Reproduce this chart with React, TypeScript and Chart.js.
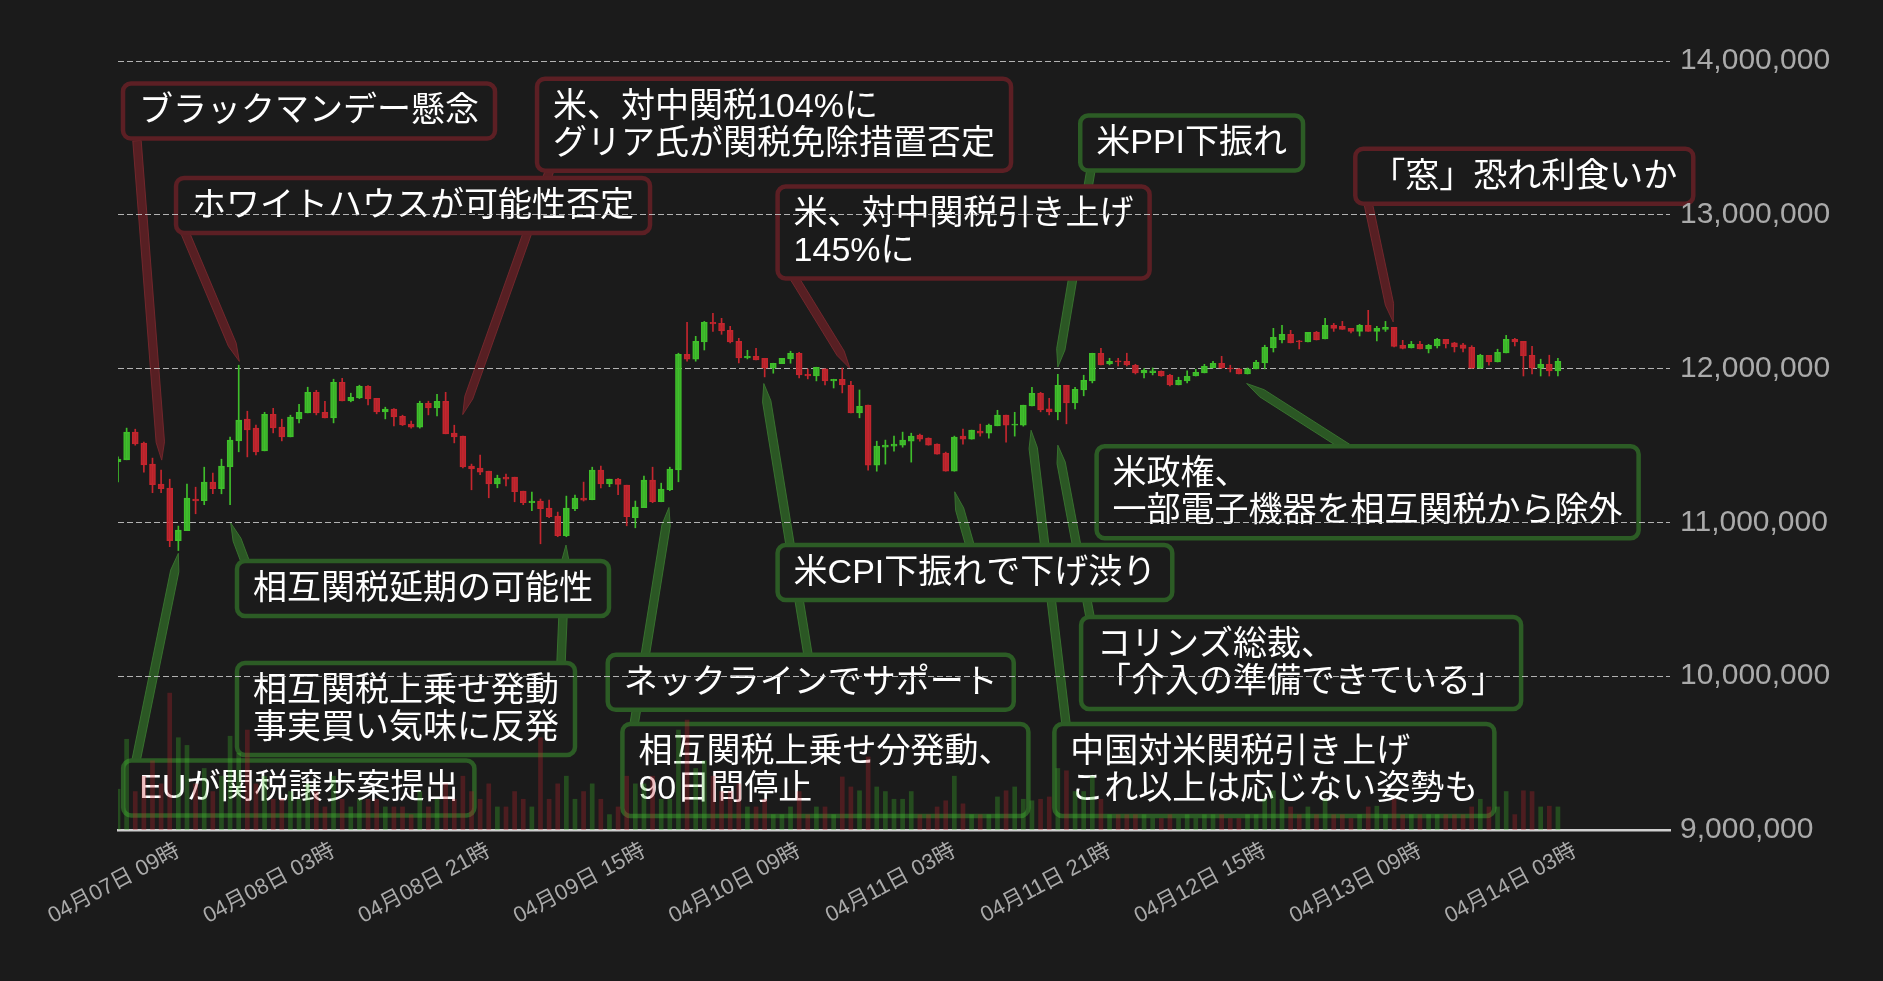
import React, { useEffect, useRef } from 'react';
import { Chart, registerables } from 'chart.js';

Chart.register(...registerables);

const BG = '#1b1b1b';
const FONT = "'Liberation Sans', 'Noto Sans CJK JP', sans-serif";
const UP = '#3fbf2b';
const DOWN = '#c4262e';

// hourly candles starting 2025-04-07 02:00 (JST); the axis runs 181 hours
const HOURS = 181;
const LABELS: string[] = [];
for (let h = 0; h < HOURS; h++) {
  const d = new Date(Date.UTC(2025, 3, 7, 2 + h));
  const p = (n: number) => String(n).padStart(2, '0');
  LABELS.push(`${p(d.getUTCMonth() + 1)}月${p(d.getUTCDate())}日 ${p(d.getUTCHours())}時`);
}

const OPEN = [
  11394000, 11407000, 11587000, 11515000, 11379000, 11249000, 11223000, 10881000, 10946000, 11152000,
  11141000, 11262000, 11219000, 11361000, 11530000, 11671000, 11613000, 11465000, 11703000, 11619000,
  11556000, 11673000, 11712000, 11846000, 11716000, 11680000, 11911000, 11790000, 11810000, 11885000,
  11807000, 11719000, 11736000, 11690000, 11639000, 11619000, 11775000, 11745000, 11788000, 11580000,
  11561000, 11366000, 11353000, 11333000, 11251000, 11294000, 11294000, 11203000, 11128000, 11139000,
  11093000, 11041000, 10913000, 11089000, 11158000, 11147000, 11340000, 11251000, 11281000, 11242000,
  11030000, 11095000, 11275000, 11134000, 11212000, 11342000, 12093000, 12061000, 12173000, 12301000,
  12294000, 12249000, 12177000, 12069000, 12080000, 12067000, 12002000, 12032000, 12063000, 12100000,
  11963000, 11952000, 11998000, 11920000, 11931000, 11892000, 11712000, 11762000, 11372000, 11489000,
  11496000, 11502000, 11528000, 11567000, 11548000, 11509000, 11450000, 11333000, 11561000, 11541000,
  11593000, 11580000, 11628000, 11697000, 11632000, 11632000, 11758000, 11840000, 11738000, 11719000,
  11892000, 11777000, 11861000, 11920000, 12100000, 12030000, 12050000, 12048000, 12022000, 11972000,
  11974000, 11983000, 11957000, 11894000, 11920000, 11952000, 11972000, 12004000, 12035000, 12004000,
  11998000, 11965000, 11998000, 12037000, 12134000, 12186000, 12223000, 12180000, 12173000, 12236000,
  12193000, 12281000, 12275000, 12262000, 12242000, 12281000, 12242000, 12255000, 12268000, 12152000,
  12134000, 12158000, 12128000, 12147000, 12190000, 12167000, 12154000, 12139000, 12002000, 12087000,
  12043000, 12102000, 12190000, 12177000, 12087000, 12002000, 12028000, 11985000,
];
const HIGH = [
  11426000, 11613000, 11606000, 11522000, 11418000, 11340000, 11281000, 10976000, 11249000, 11229000,
  11359000, 11320000, 11411000, 11554000, 12022000, 11723000, 11632000, 11716000, 11742000, 11671000,
  11697000, 11768000, 11879000, 11859000, 11788000, 11931000, 11937000, 11840000, 11892000, 11890000,
  11807000, 11749000, 11740000, 11697000, 11658000, 11788000, 11788000, 11833000, 11846000, 11632000,
  11561000, 11379000, 11437000, 11333000, 11307000, 11314000, 11294000, 11203000, 11197000, 11152000,
  11145000, 11067000, 11171000, 11177000, 11262000, 11359000, 11366000, 11281000, 11286000, 11242000,
  11139000, 11301000, 11359000, 11255000, 11359000, 12100000, 12301000, 12210000, 12307000, 12359000,
  12327000, 12275000, 12197000, 12119000, 12132000, 12067000, 12035000, 12067000, 12113000, 12106000,
  11998000, 12009000, 11998000, 11931000, 12004000, 11918000, 11861000, 11762000, 11528000, 11535000,
  11561000, 11587000, 11580000, 11574000, 11550000, 11511000, 11457000, 11561000, 11606000, 11600000,
  11639000, 11639000, 11729000, 11697000, 11716000, 11762000, 11879000, 11846000, 11807000, 11963000,
  11892000, 11879000, 11957000, 12100000, 12132000, 12067000, 12067000, 12100000, 12028000, 12000000,
  12004000, 11985000, 11963000, 11944000, 11985000, 11996000, 12028000, 12048000, 12080000, 12022000,
  12000000, 12004000, 12054000, 12152000, 12262000, 12281000, 12249000, 12184000, 12236000, 12242000,
  12327000, 12294000, 12307000, 12262000, 12288000, 12379000, 12275000, 12307000, 12268000, 12184000,
  12177000, 12177000, 12158000, 12197000, 12190000, 12171000, 12165000, 12149000, 12093000, 12087000,
  12126000, 12216000, 12197000, 12177000, 12145000, 12061000, 12087000, 12067000,
];
const LOW = [
  11264000, 11407000, 11502000, 11327000, 11193000, 11193000, 10842000, 10817000, 10946000, 11056000,
  11115000, 11186000, 11186000, 11115000, 11459000, 11426000, 11439000, 11465000, 11582000, 11530000,
  11556000, 11647000, 11712000, 11699000, 11680000, 11647000, 11790000, 11784000, 11805000, 11764000,
  11706000, 11673000, 11628000, 11630000, 11613000, 11613000, 11699000, 11693000, 11576000, 11517000,
  11355000, 11212000, 11310000, 11160000, 11225000, 11238000, 11134000, 11115000, 11076000, 10861000,
  11030000, 10907000, 10907000, 11076000, 11139000, 11147000, 11225000, 11232000, 11180000, 10978000,
  10965000, 11095000, 11128000, 11134000, 11206000, 11264000, 12048000, 12048000, 12121000, 12242000,
  12223000, 12167000, 12037000, 12063000, 12056000, 11946000, 11970000, 12032000, 12035000, 11939000,
  11933000, 11920000, 11894000, 11874000, 11842000, 11712000, 11680000, 11340000, 11333000, 11379000,
  11463000, 11489000, 11392000, 11528000, 11502000, 11444000, 11333000, 11333000, 11509000, 11541000,
  11561000, 11548000, 11628000, 11522000, 11561000, 11626000, 11758000, 11719000, 11699000, 11667000,
  11641000, 11738000, 11823000, 11907000, 12024000, 12024000, 12017000, 12017000, 11965000, 11939000,
  11959000, 11950000, 11887000, 11894000, 11907000, 11952000, 11972000, 12004000, 12002000, 11978000,
  11965000, 11965000, 11998000, 11998000, 12108000, 12167000, 12167000, 12128000, 12173000, 12186000,
  12193000, 12242000, 12255000, 12232000, 12212000, 12242000, 12180000, 12242000, 12141000, 12128000,
  12134000, 12128000, 12102000, 12134000, 12134000, 12108000, 12108000, 12002000, 12002000, 12022000,
  12043000, 12102000, 12147000, 11952000, 11965000, 11952000, 11952000, 11952000,
];
const CLOSE = [
  11411000, 11587000, 11511000, 11374000, 11245000, 11219000, 10881000, 10950000, 11158000, 11139000,
  11262000, 11219000, 11366000, 11535000, 11665000, 11602000, 11459000, 11703000, 11615000, 11556000,
  11684000, 11716000, 11846000, 11712000, 11680000, 11911000, 11790000, 11814000, 11885000, 11803000,
  11719000, 11736000, 11686000, 11634000, 11619000, 11775000, 11745000, 11788000, 11576000, 11556000,
  11361000, 11348000, 11327000, 11251000, 11288000, 11281000, 11199000, 11128000, 11139000, 11089000,
  11037000, 10913000, 11093000, 11158000, 11145000, 11340000, 11251000, 11281000, 11247000, 11037000,
  11100000, 11275000, 11134000, 11216000, 11346000, 12093000, 12061000, 12177000, 12301000, 12290000,
  12245000, 12173000, 12069000, 12080000, 12056000, 12002000, 12035000, 12067000, 12100000, 11959000,
  11952000, 12009000, 11920000, 11931000, 11894000, 11712000, 11755000, 11372000, 11496000, 11502000,
  11509000, 11535000, 11561000, 11541000, 11502000, 11444000, 11333000, 11554000, 11541000, 11600000,
  11580000, 11632000, 11697000, 11632000, 11639000, 11762000, 11840000, 11732000, 11719000, 11892000,
  11777000, 11866000, 11924000, 12100000, 12024000, 12048000, 12043000, 12024000, 11972000, 11989000,
  11985000, 11952000, 11894000, 11924000, 11950000, 11976000, 12015000, 12035000, 12004000, 11998000,
  11965000, 11998000, 12041000, 12139000, 12203000, 12223000, 12167000, 12175000, 12236000, 12186000,
  12281000, 12262000, 12255000, 12242000, 12281000, 12242000, 12262000, 12268000, 12145000, 12132000,
  12158000, 12128000, 12152000, 12190000, 12160000, 12141000, 12132000, 12002000, 12087000, 12043000,
  12106000, 12190000, 12173000, 12082000, 12002000, 12028000, 11985000, 12048000,
];
const VOLUME = [
  53, 118, 50, 70, 90, 60, 178, 120, 110, 60, 80, 50, 70, 122, 100,
  130, 60, 70, 40, 40, 50, 40, 60, 50, 30, 70, 40, 30, 40, 40,
  40, 30, 30, 30, 20, 50, 30, 40, 60, 40, 70, 50, 40, 60, 30,
  30, 50, 40, 30, 120, 40, 60, 70, 40, 50, 60, 40, 20, 30, 70,
  60, 60, 70, 40, 40, 130, 143, 80, 90, 70, 50, 50, 60, 30, 30,
  40, 20, 20, 30, 50, 20, 30, 30, 20, 69, 56, 51, 95, 56, 50,
  40, 40, 50, 20, 20, 30, 38, 70, 34, 20, 20, 20, 43, 51, 56,
  40, 38, 40, 43, 80, 77, 50, 50, 70, 40, 20, 20, 20, 20, 20,
  15, 15, 20, 15, 20, 15, 20, 20, 20, 15, 15, 20, 20, 40, 51,
  40, 30, 20, 30, 20, 40, 20, 20, 15, 20, 30, 31, 20, 40, 20,
  20, 20, 20, 20, 20, 20, 20, 30, 40, 30, 30, 50, 20, 51, 50, 30, 31, 30,
];
const Y_TICKS = [9000000, 10000000, 11000000, 12000000, 13000000, 14000000];
const VOLUME_AXIS_MAX = 1000;

// news call-outs: box top-left, pointer start and pointer tip, in (hour index, price)
type Note = { tone: 'bear' | 'bull'; lines: string[]; box: [number, number]; from: [number, number]; to: [number, number] };
const NOTES: Note[] = [
  { tone: 'bear', lines: ['ブラックマンデー懸念'], box: [0.58, 13853000], from: [2.2, 13482000], to: [5.07, 11405000] },
  { tone: 'bear', lines: ['ホワイトハウスが可能性否定'], box: [6.73, 13240000], from: [7.77, 12885000], to: [14.07, 12047000] },
  { tone: 'bear', lines: ['米、対中関税104%に', 'グリア氏が関税免除措置否定'], box: [48.6, 13885000], from: [50.1, 13294000], to: [39.98, 11701000] },
  { tone: 'bear', lines: ['米、対中関税引き上げ', '145%に'], box: [76.5, 13184000], from: [78.4, 12593000], to: [84.9, 12000000] },
  { tone: 'bear', lines: ['「窓」恐れ利食いか'], box: [143.5, 13430000], from: [144.9, 13099000], to: [147.9, 12303000] },
  { tone: 'bull', lines: ['米PPI下振れ'], box: [111.6, 13645000], from: [112.85, 13294000], to: [109, 12010000] },
  { tone: 'bull', lines: ['相互関税延期の可能性'], box: [13.8, 10749000], from: [14.73, 10749000], to: [13.07, 10997000] },
  { tone: 'bull', lines: ['相互関税上乗せ発動', '事実買い気味に反発'], box: [13.8, 10086000], from: [51.38, 10086000], to: [51.96, 10853000] },
  { tone: 'bull', lines: ['EUが関税譲歩案提出'], box: [0.6, 9452000], from: [2.09, 9450000], to: [7.0, 10799000] },
  { tone: 'bull', lines: ['ネックラインでサポート'], box: [56.8, 10139000], from: [80.03, 10138000], to: [74.9, 11903000] },
  { tone: 'bull', lines: ['相互関税上乗せ分発動、', '90日間停止'], box: [58.5, 9690000], from: [59.85, 9684000], to: [63.9, 11097000] },
  { tone: 'bull', lines: ['米CPI下振れで下げ渋り'], box: [76.5, 10853000], from: [98.8, 10853000], to: [97.04, 11199000] },
  { tone: 'bull', lines: ['米政権、', '一部電子機器を相互関税から除外'], box: [113.5, 11495000], from: [142.66, 11482000], to: [130.9, 11903000] },
  { tone: 'bull', lines: ['コリンズ総裁、', '「介入の準備できている」'], box: [111.7, 10385000], from: [112.74, 10385000], to: [109, 11502000] },
  { tone: 'bull', lines: ['中国対米関税引き上げ', 'これ以上は応じない姿勢も'], box: [108.6, 9690000], from: [109.95, 9690000], to: [105.9, 11599000] },
];

const TONE = {
  bear: { stroke: '#5c1f24', fill: 'rgba(92,31,36,0.92)', edge: 'rgba(120,40,46,0.9)' },
  bull: { stroke: '#2c5c25', fill: 'rgba(44,92,37,0.92)', edge: 'rgba(58,118,48,0.9)' },
};

const NOTE_FONT = 34;
const NOTE_LH = 37;
const PAD_X = 16;
const PAD_Y = 9;

function drawPointer(ctx: CanvasRenderingContext2D, sx: number, sy: number, tx: number, ty: number, fill: string, edge: string) {
  const dx = tx - sx;
  const dy = ty - sy;
  const len = Math.hypot(dx, dy) || 1;
  const ux = dx / len;
  const uy = dy / len;
  const nx = -uy;
  const ny = ux;
  const w = 4.2;
  const tip = 18;
  const px = tx - ux * tip;
  const py = ty - uy * tip;
  ctx.beginPath();
  ctx.moveTo(sx + nx * w, sy + ny * w);
  ctx.lineTo(px + nx * w, py + ny * w);
  ctx.lineTo(tx, ty);
  ctx.lineTo(px - nx * w, py - ny * w);
  ctx.lineTo(sx - nx * w, sy - ny * w);
  ctx.closePath();
  ctx.fillStyle = fill;
  ctx.fill();
  ctx.lineWidth = 1;
  ctx.strokeStyle = edge;
  ctx.stroke();
}

const notesPlugin = {
  id: 'newsNotes',
  beforeDraw(chart: any) {
    const { ctx, scales } = chart;
    const x = scales.x;
    const y = scales.y;
    ctx.save();
    ctx.fillStyle = BG;
    ctx.fillRect(0, 0, chart.width, chart.height);
    for (const n of NOTES) {
      const t = TONE[n.tone];
      drawPointer(
        ctx,
        x.getPixelForValue(n.from[0]),
        y.getPixelForValue(n.from[1]),
        x.getPixelForValue(n.to[0]),
        y.getPixelForValue(n.to[1]),
        t.fill,
        t.edge,
      );
    }
    ctx.font = `${NOTE_FONT}px ${FONT}`;
    for (const n of NOTES) {
      const t = TONE[n.tone];
      const bx = x.getPixelForValue(n.box[0]);
      const by = y.getPixelForValue(n.box[1]);
      const tw = Math.max(...n.lines.map((l) => ctx.measureText(l).width));
      const bw = tw + PAD_X * 2;
      const bh = n.lines.length * NOTE_LH + PAD_Y * 2;
      ctx.beginPath();
      ctx.roundRect(bx, by, bw, bh, 8);
      ctx.fillStyle = BG;
      ctx.fill();
      ctx.lineWidth = 4.5;
      ctx.strokeStyle = t.stroke;
      ctx.stroke();
      ctx.fillStyle = '#ffffff';
      ctx.textAlign = 'left';
      ctx.textBaseline = 'middle';
      n.lines.forEach((l, k) => {
        ctx.fillText(l, bx + PAD_X, by + PAD_Y + NOTE_LH * (k + 0.5) + 1);
      });
    }
    ctx.restore();
  },
};

export default function App() {
  const ref = useRef<HTMLCanvasElement | null>(null);

  useEffect(() => {
    document.documentElement.style.background = BG;
    document.body.style.background = BG;
    const canvas = ref.current;
    if (!canvas) return;
    const n = OPEN.length;
    const isUp = (i: number) => CLOSE[i] >= OPEN[i];
    const wick = OPEN.map((_, i) => [LOW[i], HIGH[i]]);
    const body = OPEN.map((o, i) => [Math.min(o, CLOSE[i]), Math.max(o, CLOSE[i])]);
    const colors = Array.from({ length: n }, (_, i) => (isUp(i) ? UP : DOWN));
    const bodyFill = Array.from({ length: n }, (_, i) => (isUp(i) ? 'rgba(63,191,43,0.85)' : 'rgba(196,38,46,0.85)'));
    const volFill = Array.from({ length: n }, (_, i) => (isUp(i) ? 'rgba(63,191,43,0.3)' : 'rgba(196,38,46,0.3)'));

    const chart = new Chart(canvas, {
      type: 'bar',
      data: {
        labels: LABELS,
        datasets: [
          { label: 'volume', data: VOLUME, yAxisID: 'yv', backgroundColor: volFill, barThickness: 4, grouped: false, order: 3 } as any,
          { label: 'wick', data: wick, yAxisID: 'y', backgroundColor: colors, barThickness: 1, grouped: false, order: 2 } as any,
          {
            label: 'body', data: body, yAxisID: 'y', backgroundColor: bodyFill, borderColor: colors, borderWidth: 1,
            borderSkipped: false, barThickness: 6, grouped: false, order: 1,
          } as any,
        ],
      },
      options: {
        responsive: true,
        maintainAspectRatio: false,
        animation: false,
        layout: { padding: { left: 110, top: 53, right: 0, bottom: 0 } },
        plugins: { legend: { display: false }, tooltip: { enabled: false } },
        scales: {
          x: {
            type: 'category',
            offset: false,
            grid: { display: true, drawOnChartArea: false, drawTicks: false },
            border: { display: true, color: '#cfcfcf', width: 2.5 },
            ticks: {
              autoSkip: false,
              maxRotation: 28,
              minRotation: 28,
              padding: 8,
              color: '#aaaaaa',
              font: { family: FONT, size: 22 },
              callback: (_v: any, i: number) => (i % 18 === 7 ? LABELS[i] : ''),
            },
            afterFit: (s: any) => {
              s.height = 143;
            },
          },
          y: {
            position: 'right',
            min: Y_TICKS[0],
            max: Y_TICKS[Y_TICKS.length - 1],
            afterBuildTicks: (s: any) => {
              s.ticks = Y_TICKS.map((v) => ({ value: v }));
            },
            grid: {
              drawTicks: false,
              lineWidth: 1,
              color: (c: any) => (c.tick && c.tick.value === Y_TICKS[0] ? 'rgba(0,0,0,0)' : 'rgba(205,205,205,0.85)'),
            },
            border: { display: false, dash: [6, 3] },
            ticks: {
              padding: 10,
              color: '#aaaaaa',
              font: { family: FONT, size: 30 },
              callback: (v: any) => Number(v).toLocaleString('en-US'),
            },
            afterFit: (s: any) => {
              s.width = 205;
            },
          },
          yv: { display: false, min: 0, max: VOLUME_AXIS_MAX },
        },
      } as any,
      plugins: [notesPlugin],
    });
    return () => chart.destroy();
  }, []);

  return (
    <div style={{ width: '100%', height: '965px', position: 'relative' }}>
      <canvas ref={ref} />
    </div>
  );
}
